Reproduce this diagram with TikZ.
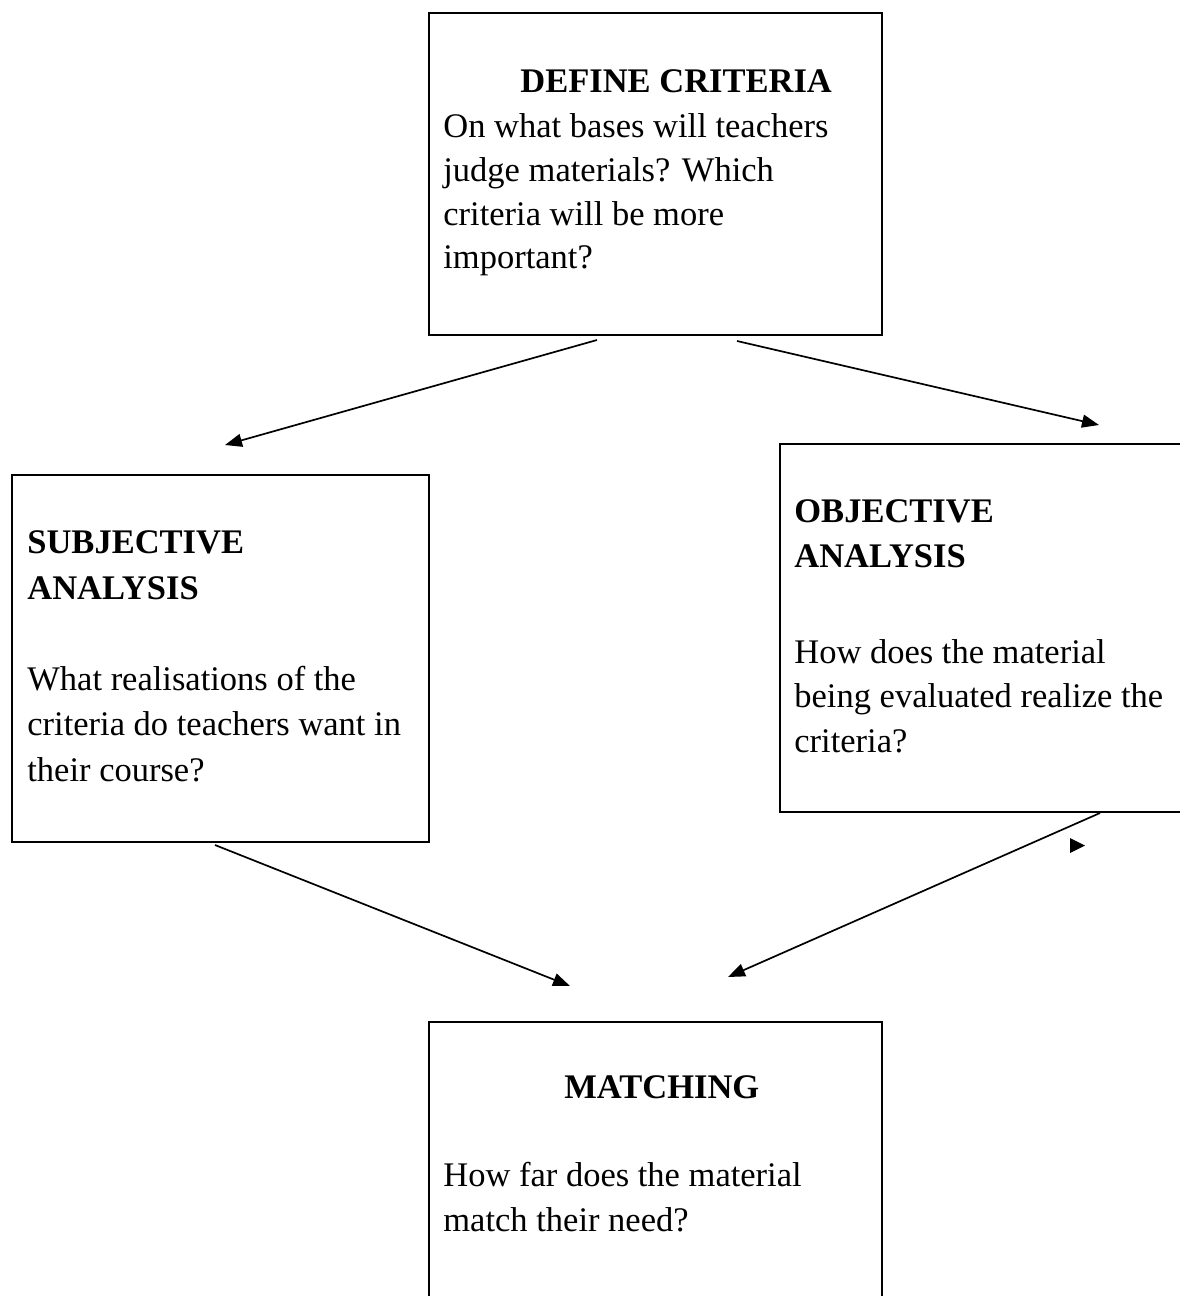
\documentclass[tikz,border=0pt]{standalone}
\usepackage{fontspec}
\setmainfont{Liberation Serif}
\usetikzlibrary{arrows.meta}
\tikzset{
  box/.style={draw, line width=1pt, rectangle, inner sep=0pt},
  head/.style={anchor=base west, inner sep=0pt, font=\fontsize{17.25}{22}\selectfont\bfseries},
  body/.style={anchor=base west, inner sep=0pt, font=\fontsize{17.25}{22}\selectfont},
  link/.style={line width=0.85pt, -{Triangle[length=8.5pt,width=6.5pt]}}
}
\begin{document}
\begin{tikzpicture}[x=0.5pt,y=-0.5pt]
\useasboundingbox (0,0) rectangle (1179,1296);

% boxes
\node[box, minimum width=226.5pt, minimum height=161pt] (define) at (655.5,174) {};
\node[box, minimum width=208.5pt, minimum height=183.5pt] (subj) at (220.5,658.5) {};
\node[box, minimum width=207.5pt, minimum height=184pt] (obj) at (987.5,628) {};
\node[box, minimum width=226.5pt, minimum height=149pt] (match) at (655.5,1171) {};

% define criteria
\node[head] (defh) at (520,92.5) {DEFINE CRITERIA};
\node[body] (def1) at (443,137) {On what bases will teachers};
\node[body] (def2) at (443,181) {judge materials? Which};
\node[body] (def3) at (443,225) {criteria will be more};
\node[body] (def4) at (443,268) {important?};

% subjective analysis
\node[head] (subh1) at (27,553) {SUBJECTIVE};
\node[head] (subh2) at (27,599) {ANALYSIS};
\node[body] (sub1) at (27,690.5) {What realisations of the};
\node[body] (sub2) at (27,735.5) {criteria do teachers want in};
\node[body] (sub3) at (27,781) {their course?};

% objective analysis
\node[head] (objh1) at (794,522.5) {OBJECTIVE};
\node[head] (objh2) at (794,567) {ANALYSIS};
\node[body] (obj1) at (794,663) {How does the material};
\node[body] (obj2) at (794,707.5) {being evaluated realize the};
\node[body] (obj3) at (794,752.5) {criteria?};

% matching
\node[head] (math) at (564,1098) {MATCHING};
\node[body] (mat1) at (443,1186.5) {How far does the material};
\node[body] (mat2) at (443,1231.5) {match their need?};

% arrows
\coordinate (d1) at (597,340);
\coordinate (d2) at (737,341);
\coordinate (s1) at (225,445);
\coordinate (o1) at (1099,425);
\coordinate (s2) at (215,845);
\coordinate (o2) at (1100,813);
\coordinate (m1) at (570,986);
\coordinate (m2) at (728,977);

\draw[link] (d1) -- (s1);
\draw[link] (d2) -- (o1);
\draw[link] (s2) -- (m1);
\draw[link] (o2) -- (m2);

\fill (1070,838) -- (1085,845.5) -- (1070,853) -- cycle;
\end{tikzpicture}
\end{document}
